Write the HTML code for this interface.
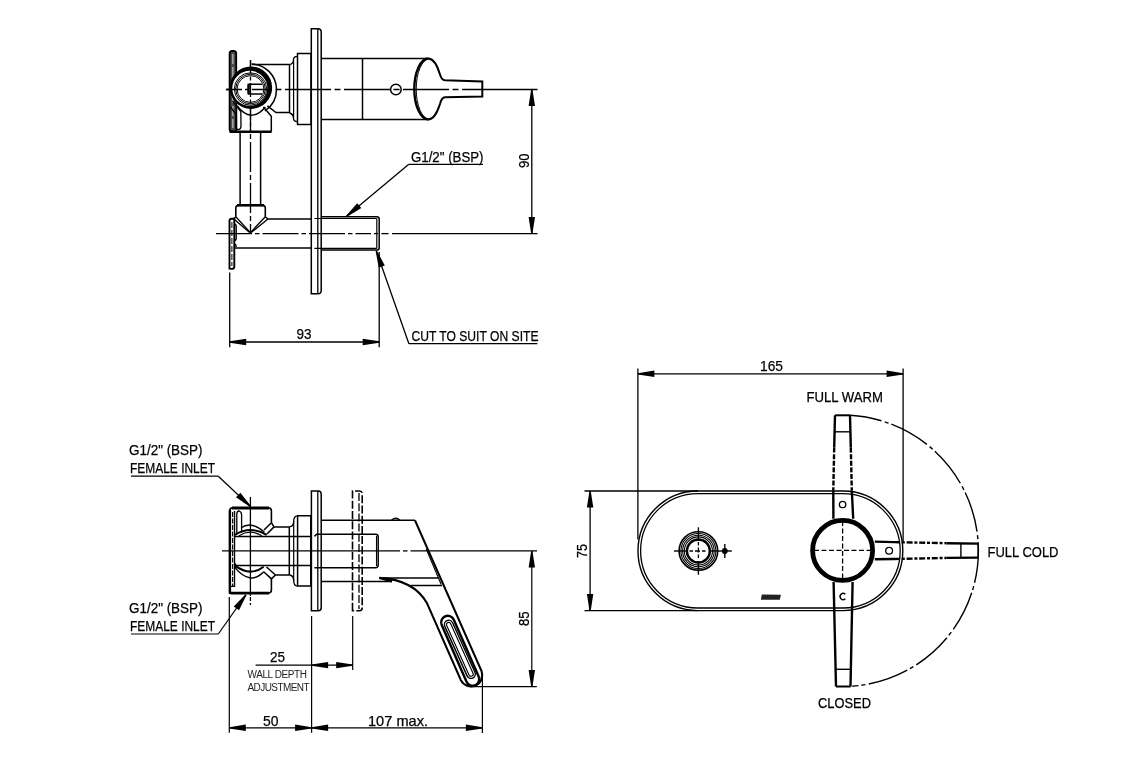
<!DOCTYPE html>
<html><head><meta charset="utf-8"><style>
html,body{margin:0;padding:0;background:#fff;}
svg{display:block;will-change:transform;}
text{font-family:"Liberation Sans",sans-serif;fill:#000;stroke:#000;stroke-width:0.25px;}
</style></head><body>
<svg width="1140" height="760" viewBox="0 0 1140 760" fill="none" stroke="#000" stroke-linecap="butt">
<line x1="226" y1="89.5" x2="482.5" y2="89.5" stroke-width="1.3" stroke-dasharray="46 3.5 6 3.5"/>
<line x1="482.5" y1="89.5" x2="537.5" y2="89.5" stroke-width="1.3" />
<line x1="216" y1="233.6" x2="371" y2="233.6" stroke-width="1.3" stroke-dasharray="36 3 4.5 3"/>
<line x1="374" y1="233.6" x2="378" y2="233.6" stroke-width="1.3" />
<line x1="381.4" y1="233.6" x2="388.6" y2="233.6" stroke-width="1.3" />
<line x1="392" y1="233.6" x2="537.5" y2="233.6" stroke-width="1.3" />
<line x1="250.5" y1="60" x2="250.5" y2="234" stroke-width="1.3" stroke-dasharray="30 3 5 3"/>
<path d="M229.6,129 L229.6,53.5 Q229.6,50.8 232.3,50.8 L233.5,50.8 Q236.2,50.8 236.2,53.5 L236.4,129 Q236.4,131.6 234,131.6 L232,131.6 Q229.6,131.6 229.6,129 Z" stroke-width="1.8" fill="#4a4a4a"/>
<line x1="232.9" y1="54" x2="232.9" y2="128" stroke-width="0.8" stroke="#fff" stroke-dasharray="10 3"/>
<circle cx="250.95" cy="87.7" r="21.2" stroke-width="0" fill="#000"/>
<circle cx="249.8" cy="88.3" r="17.5" stroke-width="0" fill="#fff"/>
<circle cx="250.5" cy="89" r="16.2" stroke-width="1.0" />
<circle cx="250.5" cy="89" r="14.8" stroke-width="1.0" />
<circle cx="250.5" cy="89" r="13.4" stroke-width="1.0" />
<path d="M251.5,64 A25.5,25.5 0 0 1 276.5,89.5 A25.5,25.5 0 0 1 264.9,110.9" stroke-width="1.5" />
<path d="M271.3,131.6 L271.3,116.3 L263.4,107 M267.4,105.8 L276,112.6 L289.5,112.6" stroke-width="1.5" />
<line x1="229.6" y1="131.8" x2="271.6" y2="131.8" stroke-width="2.6" />
<path d="M237,105.8 Q251,124 265.4,107" stroke-width="1.4" />
<path d="M232.5,101 L240.8,111.5 L241,126.5 Q240.8,129.6 238.3,129.6 Q235.8,129.6 235.8,126.5 L235.8,114 L230.5,107" stroke-width="1.3" />
<line x1="252.2" y1="64.4" x2="289.5" y2="64.4" stroke-width="1.5" />
<line x1="226" y1="89.5" x2="272" y2="89.5" stroke-width="1.3" stroke-dasharray="16 3 4 3"/>
<line x1="250.5" y1="60" x2="250.5" y2="131" stroke-width="1.3" stroke-dasharray="14 2.5 4 2.5"/>
<path d="M262.1,84.2 L248.4,84.2 L248.4,93.9 L262.1,93.9" stroke-width="1.5" />
<line x1="248.6" y1="84.5" x2="248.6" y2="93.6" stroke-width="2.4" />
<line x1="289.5" y1="64.6" x2="289.5" y2="113" stroke-width="1.5" />
<path d="M289.5,64.6 Q293.5,63.8 293.5,59.5 Q293.5,56.5 297.5,56.3 M289.5,113 Q293.5,114 293.5,118.5 Q293.5,121.5 297.5,121.7" stroke-width="1.3" />
<line x1="293.6" y1="59.5" x2="293.6" y2="118.5" stroke-width="1.2" />
<path d="M297.5,53.6 L311,53.6 L311,124.5 L297.5,124.5 Z" stroke-width="1.5" />
<path d="M311.3,293.7 L311.3,28.7 L318,28.7 Q321.2,28.7 321.2,32 L321.2,290.4 Q321.2,293.7 318,293.7 Z" stroke-width="1.5" />
<line x1="317.8" y1="28.7" x2="317.8" y2="293.7" stroke-width="1.3" />
<line x1="321.2" y1="58.5" x2="428.5" y2="58.5" stroke-width="1.5" />
<line x1="321.2" y1="119.5" x2="428.5" y2="119.5" stroke-width="1.5" />
<line x1="362.5" y1="58.5" x2="362.5" y2="119.5" stroke-width="1.5" />
<circle cx="395.9" cy="89.5" r="5.3" stroke-width="1.5" />
<path d="M428.5,58.5 A14.2,30.5 0 0 0 428.5,119.5" stroke-width="2.4" />
<path d="M429.5,58.8 A13.2,30 0 0 0 429.5,119.2" stroke-width="1.0" />
<path d="M428.5,58.5 C435,59 438,68 440,74.5 Q441.5,80 445,80.3 L482.3,81.4 L482.3,96.6 L445,97.2 Q441.5,97.5 440,104 C438,110 435,119 428.5,119.5" stroke-width="2.0" />
<line x1="240.1" y1="131.8" x2="240.1" y2="205" stroke-width="1.5" />
<line x1="260.6" y1="131.8" x2="260.6" y2="205" stroke-width="1.5" />
<path d="M235.8,216.8 L235.8,208 Q235.8,205.2 238.6,205.2 L262.5,205.2 Q265.3,205.2 265.3,208 L265.3,216.8" stroke-width="1.6" />
<line x1="237" y1="205.3" x2="264" y2="205.3" stroke-width="2.6" />
<path d="M235.8,216.8 L250.4,232.6 L265.3,216.8" stroke-width="1.3" />
<path d="M233.6,218.8 L249.6,232.6 M267.9,219 L251.2,232.6" stroke-width="1.3" />
<path d="M233.6,218.8 L235.8,216.8 M265.3,216.8 L267.9,219" stroke-width="1.3" />
<line x1="267.9" y1="219" x2="311.3" y2="219" stroke-width="1.5" />
<line x1="234.5" y1="248" x2="311.3" y2="248" stroke-width="1.5" />
<path d="M321.2,216.8 L376.8,216.8 Q379.2,216.8 379.2,219.2 L379.2,247.7 Q379.2,250.1 376.8,250.1 L321.2,250.1" stroke-width="1.5" />
<line x1="314.4" y1="218.5" x2="376.8" y2="218.5" stroke-width="1.2" />
<line x1="314.4" y1="248.4" x2="376.8" y2="248.4" stroke-width="1.2" />
<line x1="376.8" y1="218.5" x2="376.8" y2="248.4" stroke-width="1.2" />
<path d="M229.5,268.7 L229.5,221 Q229.5,218.8 231.7,218.8 L234.3,218.8 L234.3,266.5 Q234.3,268.9 232,268.9 Z" stroke-width="1.9" />
<line x1="231.9" y1="222" x2="231.9" y2="266" stroke-width="1.0" stroke-dasharray="6 2"/>
<path d="M234.4,224 Q236.2,224 236.2,227 L236.2,238 Q236.2,240.5 234.4,240.5 M234.4,244 Q236.2,244.5 236.2,247" stroke-width="1.4" />
<line x1="531.8" y1="89.5" x2="531.8" y2="233.6" stroke-width="1.3" />
<polygon points="532.45,89.50 535.00,106.00 528.60,106.00 531.15,89.50" fill="#000" stroke="none"/>
<polygon points="531.15,233.60 528.60,217.10 535.00,217.10 532.45,233.60" fill="#000" stroke="none"/>
<text x="529.3" y="168.00" font-size="14.5" textLength="14.50" lengthAdjust="spacingAndGlyphs" transform="rotate(-90 529.3 168.00)">90</text>
<line x1="482.9" y1="164.3" x2="408.8" y2="164.3" stroke-width="1.3" />
<line x1="408.8" y1="164.3" x2="346.6" y2="216.2" stroke-width="1.3" />
<polygon points="346.18,215.70 357.22,203.17 361.32,208.09 347.02,216.70" fill="#000" stroke="none"/>
<text x="411.00" y="161.5" font-size="14.5" textLength="72.50" lengthAdjust="spacingAndGlyphs">G1/2" (BSP)</text>
<line x1="537.4" y1="343.7" x2="408.9" y2="343.7" stroke-width="1.3" />
<line x1="408.9" y1="343.7" x2="376.3" y2="251" stroke-width="1.3" />
<polygon points="376.91,250.78 384.79,265.50 378.76,267.63 375.69,251.22" fill="#000" stroke="none"/>
<text x="411.50" y="341" font-size="14.5" textLength="127.00" lengthAdjust="spacingAndGlyphs">CUT TO SUIT ON SITE</text>
<line x1="229.7" y1="272.5" x2="229.7" y2="347.2" stroke-width="1.3" />
<line x1="379.2" y1="252" x2="379.2" y2="347.2" stroke-width="1.3" />
<line x1="229.7" y1="342" x2="379.2" y2="342" stroke-width="1.3" />
<polygon points="229.70,341.35 246.20,338.80 246.20,345.20 229.70,342.65" fill="#000" stroke="none"/>
<polygon points="379.20,342.65 362.70,345.20 362.70,338.80 379.20,341.35" fill="#000" stroke="none"/>
<text x="296.50" y="339.2" font-size="14.5" textLength="15.00" lengthAdjust="spacingAndGlyphs">93</text>
<path d="M271.4,522.7 L271.4,510.9 Q271.4,507.9 268.4,507.9 L232.6,507.9 Q229.7,507.9 229.7,510.9 L229.7,593.1 L268.4,593.1 Q271.4,593.1 271.4,590.1 L271.4,578.9" stroke-width="1.6" />
<line x1="232" y1="508.0" x2="269" y2="508.0" stroke-width="2.8" />
<line x1="230.5" y1="593.1" x2="269" y2="593.1" stroke-width="2.6" />
<line x1="229.9" y1="510" x2="229.9" y2="593" stroke-width="2.4" />
<path d="M271.4,522.7 L274,526.9 L289.3,526.9 M264,530 L271.4,522.7" stroke-width="1.5" />
<path d="M267,534 L274,526.9" stroke-width="1.5" />
<path d="M271.4,578.9 L275.5,575 L289.3,575 M263.7,571.8 L271.4,578.9 M266.5,567 L275.5,575" stroke-width="1.5" />
<path d="M229.9,586.4 L234.5,586.4 L234.5,511" stroke-width="1.4" />
<line x1="232.6" y1="512" x2="232.6" y2="586" stroke-width="1.1" stroke-dasharray="5 1.5"/>
<path d="M236.8,533 L236.8,514 Q236.8,511 239.2,511 Q241.6,512 241.6,515 L241.6,531" stroke-width="1.3" />
<path d="M235.3,563.5 Q236.5,566 235.5,568" stroke-width="1.3" />
<path d="M241.2,527.8 Q251,520.4 264.4,532.2" stroke-width="1.4" />
<path d="M235,534.8 Q250.4,525.2 266.6,534.8" stroke-width="2.0" />
<path d="M239,535.7 Q250.4,528.7 261.8,535.7" stroke-width="1.2" />
<path d="M234.5,567.1 Q250.3,586.1 263.7,571.8" stroke-width="1.4" />
<path d="M235.3,565.9 Q250.3,576.9 263.7,566.7" stroke-width="2.0" />
<line x1="235" y1="536.4" x2="311.4" y2="536.4" stroke-width="1.5" />
<line x1="235" y1="565.4" x2="311.4" y2="565.4" stroke-width="1.5" />
<line x1="289.3" y1="526.9" x2="289.3" y2="575" stroke-width="1.5" />
<path d="M289.3,526.9 Q293.7,526.5 293.7,521 Q293.7,516 297.6,515.8" stroke-width="1.3" />
<path d="M289.3,575 Q293.7,575.3 293.7,580.8 Q293.7,586 297.6,586.1" stroke-width="1.3" />
<line x1="293.7" y1="521" x2="293.7" y2="580.8" stroke-width="1.2" />
<path d="M297.6,515.8 L310.8,515.8 L310.8,586.1 L297.6,586.1 Z" stroke-width="1.5" />
<path d="M311.4,610.8 L311.4,490.9 L318.3,490.9 Q321.2,490.9 321.2,494 L321.2,607.8 Q321.2,610.8 318.3,610.8 Z" stroke-width="1.5" />
<line x1="317.8" y1="491" x2="317.8" y2="610.8" stroke-width="1.3" />
<g stroke-dasharray="8 2.2">
<path d="M352.5,610.8 L352.5,491 L359.5,491 Q362.2,491 362.2,494 L362.2,607.8 Q362.2,610.8 359.5,610.8 Z" stroke-width="1.6" />
<line x1="359.0" y1="493" x2="359.0" y2="609" stroke-width="1.3" />
</g>
<path d="M314.4,567.7 L375.5,567.7 Q378.2,567.7 378.2,565 L378.2,537 Q378.2,534.3 375.5,534.3 L316.6,534.3 L314.4,536.4" stroke-width="1.5" />
<line x1="376.5" y1="536" x2="376.5" y2="566" stroke-width="1.1" />
<line x1="222" y1="550.9" x2="400" y2="550.9" stroke-width="1.3" />
<line x1="403" y1="550.9" x2="407.5" y2="550.9" stroke-width="1.3" />
<line x1="410.5" y1="550.9" x2="537" y2="550.9" stroke-width="1.3" />
<line x1="250.4" y1="497" x2="250.4" y2="596" stroke-width="1.3" />
<line x1="250.4" y1="597" x2="250.4" y2="605" stroke-width="1.3" stroke-dasharray="4 2"/>
<line x1="321.2" y1="520.3" x2="415" y2="520.3" stroke-width="1.5" />
<path d="M391.5,520.3 Q395.7,516.2 400,520.3" stroke-width="1.2" />
<line x1="321.2" y1="581.4" x2="392" y2="581.4" stroke-width="1.5" />
<line x1="379.3" y1="577.9" x2="438.2" y2="577.9" stroke-width="1.5" />
<line x1="410.5" y1="585.5" x2="442" y2="585.5" stroke-width="1.5" />
<path d="M415,520.3 L481.55,671.1 A11.3,11.3 0 0 1 460.85,680.1 L427.2,603.6 C418,587 400,579 379.3,577.9 L392,581.6" stroke-width="2.1" />
<line x1="426.2" y1="549" x2="441.2" y2="584.5" stroke-width="1.1" />
<path d="M441.70,625.05 L466.55,681.85 A6.6,6.6 0 0 0 478.65,676.55 L453.80,619.75 A6.6,6.6 0 0 0 441.70,625.05 Z" stroke-width="2.4" />
<path d="M444.78,626.37 L467.08,675.87 A4.3,4.3 0 0 0 474.92,672.33 L452.62,622.83 A4.3,4.3 0 0 0 444.78,626.37 Z" stroke-width="1.4" />
<path d="M446.69,625.50 L468.99,675.00 A2.2,2.2 0 0 0 473.01,673.20 L450.71,623.70 A2.2,2.2 0 0 0 446.69,625.50 Z" stroke-width="1.1" />
<line x1="131" y1="476.2" x2="218.3" y2="476.2" stroke-width="1.2" />
<line x1="218.3" y1="476.2" x2="250.2" y2="506.3" stroke-width="1.2" />
<polygon points="249.75,506.77 236.00,497.30 240.40,492.65 250.65,505.83" fill="#000" stroke="none"/>
<text x="129.00" y="455.3" font-size="14.5" textLength="73.50" lengthAdjust="spacingAndGlyphs">G1/2" (BSP)</text>
<text x="130.00" y="473.1" font-size="14.5" textLength="85.00" lengthAdjust="spacingAndGlyphs">FEMALE INLET</text>
<line x1="131" y1="634" x2="218.3" y2="634" stroke-width="1.2" />
<line x1="218.3" y1="634" x2="245.9" y2="594.9" stroke-width="1.2" />
<polygon points="246.43,595.27 239.00,610.23 233.77,606.53 245.37,594.53" fill="#000" stroke="none"/>
<text x="129.00" y="612.7" font-size="14.5" textLength="73.50" lengthAdjust="spacingAndGlyphs">G1/2" (BSP)</text>
<text x="130.00" y="631.2" font-size="14.5" textLength="85.00" lengthAdjust="spacingAndGlyphs">FEMALE INLET</text>
<line x1="229.3" y1="597" x2="229.3" y2="732.7" stroke-width="1.2" />
<line x1="311.6" y1="616" x2="311.6" y2="732.7" stroke-width="1.2" />
<line x1="352.7" y1="616" x2="352.7" y2="670" stroke-width="1.2" />
<line x1="482.4" y1="673.6" x2="482.4" y2="733" stroke-width="1.2" />
<line x1="255.6" y1="665.1" x2="352.7" y2="665.1" stroke-width="1.2" />
<polygon points="311.60,664.45 328.10,661.90 328.10,668.30 311.60,665.75" fill="#000" stroke="none"/>
<polygon points="352.70,665.75 336.20,668.30 336.20,661.90 352.70,664.45" fill="#000" stroke="none"/>
<text x="270.00" y="662" font-size="14.5" textLength="15.00" lengthAdjust="spacingAndGlyphs">25</text>
<text x="247.50" y="678.1" font-size="10" textLength="59.50" lengthAdjust="spacing" style="stroke:none;fill:#222">WALL DEPTH</text>
<text x="247.50" y="690.6" font-size="10" textLength="62.00" lengthAdjust="spacing" style="stroke:none;fill:#222">ADJUSTMENT</text>
<line x1="229.3" y1="727.8" x2="482.4" y2="727.8" stroke-width="1.2" />
<polygon points="229.30,727.15 245.80,724.60 245.80,731.00 229.30,728.45" fill="#000" stroke="none"/>
<polygon points="311.60,728.45 295.10,731.00 295.10,724.60 311.60,727.15" fill="#000" stroke="none"/>
<polygon points="311.60,727.15 328.10,724.60 328.10,731.00 311.60,728.45" fill="#000" stroke="none"/>
<polygon points="482.40,728.45 465.90,731.00 465.90,724.60 482.40,727.15" fill="#000" stroke="none"/>
<text x="263.00" y="725.5" font-size="14.5" textLength="15.50" lengthAdjust="spacingAndGlyphs">50</text>
<text x="368.00" y="725.5" font-size="14.5" textLength="60.00" lengthAdjust="spacingAndGlyphs">107 max.</text>
<line x1="470" y1="686.6" x2="536.8" y2="686.6" stroke-width="1.2" />
<line x1="531.8" y1="550.9" x2="531.8" y2="686.6" stroke-width="1.2" />
<polygon points="532.45,550.90 535.00,567.40 528.60,567.40 531.15,550.90" fill="#000" stroke="none"/>
<polygon points="531.15,686.60 528.60,670.10 535.00,670.10 532.45,686.60" fill="#000" stroke="none"/>
<text x="528.9" y="626.00" font-size="14.5" textLength="14.50" lengthAdjust="spacingAndGlyphs" transform="rotate(-90 528.9 626.00)">85</text>
<path d="M697.8,490.99999999999994 L843,490.99999999999994 A59.8,59.8 0 0 1 843,610.5999999999999 L697.8,610.5999999999999 A59.8,59.8 0 0 1 697.8,490.99999999999994 Z" stroke-width="1.4" />
<path d="M697.8,493.59999999999997 L843,493.59999999999997 A57.2,57.2 0 0 1 843,608.0 L697.8,608.0 A57.2,57.2 0 0 1 697.8,493.59999999999997 Z" stroke-width="1.3" />
<circle cx="698.4" cy="551" r="19.3" stroke-width="1.6" />
<circle cx="698.4" cy="551" r="17.5" stroke-width="1.1" />
<circle cx="698.4" cy="551" r="15.8" stroke-width="1.1" />
<circle cx="698.4" cy="551" r="14.1" stroke-width="1.1" />
<circle cx="698.4" cy="551" r="11.5" stroke-width="2.4" />
<line x1="674" y1="551" x2="688" y2="551" stroke-width="1.4" />
<line x1="708.8" y1="551" x2="731.8" y2="551" stroke-width="1.4" />
<line x1="689.5" y1="551" x2="707.5" y2="551" stroke-width="1.3" stroke-dasharray="3.5 2 5 2 3.5"/>
<line x1="698.4" y1="527.3" x2="698.4" y2="541" stroke-width="1.4" />
<line x1="698.4" y1="561" x2="698.4" y2="574.7" stroke-width="1.4" />
<line x1="698.4" y1="542" x2="698.4" y2="560" stroke-width="1.3" stroke-dasharray="3.5 2 5 2 3.5"/>
<circle cx="724.8" cy="551" r="2.9" stroke-width="0" fill="#000"/>
<line x1="724.8" y1="544.1" x2="724.8" y2="557.9" stroke-width="1.4" />
<polygon points="761.8,594.6 780.9,594.8 779.8,599.8 760.8,599.8" fill="#222" stroke="none"/>
<path d="M835,415.3 L850,415.3" stroke-width="2.0" />
<path d="M835,415.3 L834.2,447.6 M833.3,490.3 L833.4,518.7 M850,415.3 L850.8,447.6 M851.8,490.3 L853.2,518.7" stroke-width="2.4" />
<path d="M834.2,447.6 L833.3,490.3 M850.8,447.6 L851.8,490.3" stroke-width="2.4" stroke-dasharray="5 1.6"/>
<line x1="835" y1="431.8" x2="850" y2="431.8" stroke-width="1.4" />
<circle cx="842.6" cy="504.5" r="3.2" stroke-width="1.3" />
<path d="M836,686.5 L850.5,686.5" stroke-width="2.0" />
<path d="M836,686.5 L833.6,582 M850.5,686.5 L852.6,582" stroke-width="2.4" />
<line x1="836" y1="669.3" x2="850.5" y2="669.3" stroke-width="1.4" />
<path d="M845.3,594.2 A3.1,3.1 0 1 0 845.3,598.8" stroke-width="1.4" />
<line x1="978.2" y1="543.6" x2="978.2" y2="557.6" stroke-width="1.5" />
<path d="M874.8,541.6 L894,542.1 M946.7,543.2 L978.2,543.6 M874.8,559.3 L894,559 M946.7,557.9 L978.2,557.6" stroke-width="2.4" />
<path d="M894,542.1 L946.7,543.2 M894,559 L946.7,557.9" stroke-width="2.4" stroke-dasharray="6 1.8 3 1.8"/>
<line x1="960.9" y1="543.5" x2="960.9" y2="557.8" stroke-width="1.4" />
<circle cx="889.1" cy="550.8" r="3.4" stroke-width="1.3" />
<circle cx="842.6" cy="550.4" r="30.0" stroke-width="4.8" fill="#fff"/>
<line x1="814" y1="550.4" x2="872" y2="550.4" stroke-width="1.3" stroke-dasharray="5 2.5"/>
<line x1="842.6" y1="521" x2="842.6" y2="580" stroke-width="1.3" stroke-dasharray="5 2.5"/>
<path d="M850,415.3 A135.8,135.8 0 0 1 978.4,550.6 A135.8,135.8 0 0 1 852.3,686.2" stroke-width="1.4" stroke-dasharray="41 3.5 4 3" stroke-dashoffset="9"/>
<line x1="637.9" y1="368.4" x2="637.9" y2="539.4" stroke-width="1.3" />
<line x1="903.1" y1="368.4" x2="903.1" y2="542" stroke-width="1.3" />
<line x1="637.9" y1="373.8" x2="903.1" y2="373.8" stroke-width="1.3" />
<polygon points="637.90,373.15 654.40,370.60 654.40,377.00 637.90,374.45" fill="#000" stroke="none"/>
<polygon points="903.10,374.45 886.60,377.00 886.60,370.60 903.10,373.15" fill="#000" stroke="none"/>
<text x="760.00" y="371" font-size="14.5" textLength="23.00" lengthAdjust="spacingAndGlyphs">165</text>
<line x1="584.5" y1="491" x2="698" y2="491" stroke-width="1.3" />
<line x1="584.5" y1="610.6" x2="698" y2="610.6" stroke-width="1.3" />
<line x1="590.1" y1="491" x2="590.1" y2="610.6" stroke-width="1.3" />
<polygon points="590.75,491.00 593.30,507.50 586.90,507.50 589.45,491.00" fill="#000" stroke="none"/>
<polygon points="589.45,610.60 586.90,594.10 593.30,594.10 590.75,610.60" fill="#000" stroke="none"/>
<text x="587.4" y="558.00" font-size="14.5" textLength="14.00" lengthAdjust="spacingAndGlyphs" transform="rotate(-90 587.4 558.00)">75</text>
<text x="806.50" y="402.3" font-size="14.5" textLength="76.50" lengthAdjust="spacingAndGlyphs">FULL WARM</text>
<text x="987.50" y="556.7" font-size="14.5" textLength="71.00" lengthAdjust="spacingAndGlyphs">FULL COLD</text>
<text x="818.00" y="707.5" font-size="14.5" textLength="53.00" lengthAdjust="spacingAndGlyphs">CLOSED</text>
</svg>
</body></html>
